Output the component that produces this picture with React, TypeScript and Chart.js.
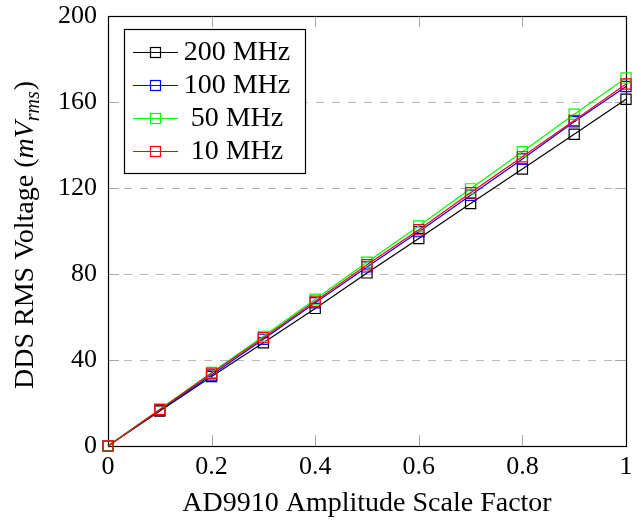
import React, { useEffect, useRef } from "react";
import { Chart, registerables } from "chart.js";

Chart.register(...registerables);

const xValues = [0, 0.1, 0.2, 0.3, 0.4, 0.5, 0.6, 0.7, 0.8, 0.9, 1];
const mhz200 = [0, 16.3, 32.3, 48, 64, 80.5, 96.5, 112.8, 128.8, 145, 161.3];
const mhz100 = [0, 16.7, 33, 49.6, 66.6, 83.3, 99.7, 116.6, 133.5, 150.8, 167.2];
const mhz50 = [0, 17.1, 34.2, 51, 68.3, 85.5, 102.3, 119.6, 136.9, 154.3, 171.2];
const mhz10 = [0, 17, 33.8, 50.4, 67.3, 84.3, 100.6, 117.8, 134.5, 151.4, 168.4];

const seriesLabels = ["200 MHz", "100 MHz", "50 MHz", "10 MHz"];
const seriesColors = ["#000000", "#0000ff", "#00ff00", "#ff0000"];
const seriesValues = [mhz200, mhz100, mhz50, mhz10];

const xTicks = [0, 0.2, 0.4, 0.6, 0.8, 1];
const yTicks = [0, 40, 80, 120, 160, 200];
const xTitle = "AD9910 Amplitude Scale Factor";
const yTitleMain = "DDS RMS Voltage (";
const yTitleMath = "mV";
const yTitleSub = "rms";
const yTitleEnd = ")";

const FONT = "'Liberation Serif', 'Times New Roman', serif";

const decor = {
  id: "decor",
  beforeDatasetsDraw(chart: any) {
    const { ctx, chartArea: a, scales } = chart;
    const x = scales.x;
    const y = scales.y;
    ctx.save();
    // dashed horizontal grid
    ctx.strokeStyle = "#b8b8b8";
    ctx.lineWidth = 1;
    ctx.setLineDash([8, 8]);
    yTicks.forEach((v) => {
      if (v === yTicks[0] || v === yTicks[yTicks.length - 1]) return;
      const py = Math.round(y.getPixelForValue(v)) + 0.5;
      ctx.beginPath();
      ctx.moveTo(a.left, py);
      ctx.lineTo(a.right, py);
      ctx.stroke();
    });
    ctx.setLineDash([]);
    // inner tick marks
    const tl = 11;
    ctx.strokeStyle = "#a8a8a8";
    xTicks.forEach((v) => {
      if (v === xTicks[0] || v === xTicks[xTicks.length - 1]) return;
      const px = Math.round(x.getPixelForValue(v)) + 0.5;
      ctx.beginPath();
      ctx.moveTo(px, a.bottom);
      ctx.lineTo(px, a.bottom - tl);
      ctx.moveTo(px, a.top);
      ctx.lineTo(px, a.top + tl);
      ctx.stroke();
    });
    yTicks.forEach((v) => {
      if (v === yTicks[0] || v === yTicks[yTicks.length - 1]) return;
      const py = Math.round(y.getPixelForValue(v)) + 0.5;
      ctx.beginPath();
      ctx.moveTo(a.left, py);
      ctx.lineTo(a.left + tl, py);
      ctx.moveTo(a.right, py);
      ctx.lineTo(a.right - tl, py);
      ctx.stroke();
    });
    // frame
    ctx.strokeStyle = "#000";
    ctx.lineWidth = 1.2;
    ctx.strokeRect(a.left + 0.5, a.top + 0.5, a.right - a.left, a.bottom - a.top);
    ctx.restore();
  },
  afterDatasetsDraw(chart: any) {
    const { ctx, chartArea: a } = chart;
    ctx.save();
    // legend
    const lx = a.left + 16;
    const ly = a.top + 13;
    const lw = 181;
    const lh = 144;
    ctx.fillStyle = "#fff";
    ctx.fillRect(lx, ly, lw, lh);
    ctx.strokeStyle = "#000";
    ctx.lineWidth = 1.2;
    ctx.strokeRect(lx + 0.5, ly + 0.5, lw, lh);
    ctx.font = `28px ${FONT}`;
    ctx.textAlign = "center";
    ctx.textBaseline = "middle";
    seriesLabels.forEach((lab, i) => {
      const cy = ly + 23 + i * 33;
      ctx.strokeStyle = seriesColors[i];
      ctx.lineWidth = 1.2;
      ctx.beginPath();
      ctx.moveTo(lx + 9, cy + 0.5);
      ctx.lineTo(lx + 54, cy + 0.5);
      ctx.stroke();
      ctx.strokeRect(lx + 26.5, cy - 4.5, 10, 10);
      ctx.fillStyle = "#000";
      ctx.fillText(lab, lx + 113, cy + 1);
    });
    // x title
    ctx.textAlign = "center";
    ctx.textBaseline = "alphabetic";
    ctx.font = `28px ${FONT}`;
    ctx.fillStyle = "#000";
    ctx.fillText(xTitle, (a.left + a.right) / 2, a.bottom + 65);
    // y title
    ctx.translate(a.left - 75, 389);
    ctx.rotate(-Math.PI / 2);
    ctx.textAlign = "left";
    let cx = 0;
    ctx.font = `28px ${FONT}`;
    ctx.fillText(yTitleMain, cx, 0);
    cx += ctx.measureText(yTitleMain).width;
    ctx.font = `italic 28px ${FONT}`;
    ctx.fillText(yTitleMath, cx, 0);
    cx += ctx.measureText(yTitleMath).width;
    ctx.font = `italic 20px ${FONT}`;
    ctx.fillText(yTitleSub, cx, 6);
    cx += ctx.measureText(yTitleSub).width + 1;
    ctx.font = `28px ${FONT}`;
    ctx.fillText(yTitleEnd, cx, 0);
    ctx.restore();
  },
};

export default function App() {
  const ref = useRef<HTMLCanvasElement>(null);
  useEffect(() => {
    if (!ref.current) return;
    const chart = new Chart(ref.current, {
      type: "line",
      data: {
        datasets: seriesLabels.map((lab, i) => ({
          label: lab,
          data: xValues.map((xv, j) => ({ x: xv, y: seriesValues[i][j] })),
          borderColor: seriesColors[i],
          backgroundColor: "rgba(0,0,0,0)",
          borderWidth: 1.2,
          pointStyle: "rect",
          pointRadius: 7.2,
          pointBorderWidth: 1.2,
          pointBackgroundColor: "rgba(0,0,0,0)",
          pointBorderColor: seriesColors[i],
          tension: 0,
          clip: false,
          order: seriesLabels.length - i,
        })),
      },
      options: {
        responsive: false,
        animation: false,
        devicePixelRatio: 1,
        layout: { padding: { top: 16, right: 11, left: 0, bottom: 0 } },
        plugins: { legend: { display: false }, tooltip: { enabled: false } },
        scales: {
          x: {
            type: "linear",
            min: 0,
            max: 1,
            afterFit: (s: any) => {
              s.height = 74;
              s.paddingLeft = 0;
              s.paddingRight = 0;
            },
            afterBuildTicks: (s: any) => {
              s.ticks = xTicks.map((v) => ({ value: v }));
            },
            ticks: {
              font: { family: FONT, size: 26 },
              color: "#000",
              padding: 6,
              maxRotation: 0,
              callback: (v: any) => String(Math.round(Number(v) * 10) / 10),
            },
            grid: { display: false, drawTicks: false },
            border: { display: false },
          },
          y: {
            type: "linear",
            min: 0,
            max: 200,
            afterFit: (s: any) => {
              s.width = 108;
              s.paddingTop = 0;
              s.paddingBottom = 0;
            },
            afterBuildTicks: (s: any) => {
              s.ticks = yTicks.map((v) => ({ value: v }));
            },
            ticks: {
              font: { family: FONT, size: 26 },
              color: "#000",
              padding: 11,
            },
            grid: { display: false, drawTicks: false },
            border: { display: false },
          },
        },
      },
      plugins: [decor],
    });
    return () => chart.destroy();
  }, []);
  return (
    <div style={{ position: "fixed", left: 0, top: 0, width: 637, height: 520, background: "#fff" }}>
      <canvas ref={ref} width={637} height={520} style={{ width: 637, height: 520 }} />
    </div>
  );
}
